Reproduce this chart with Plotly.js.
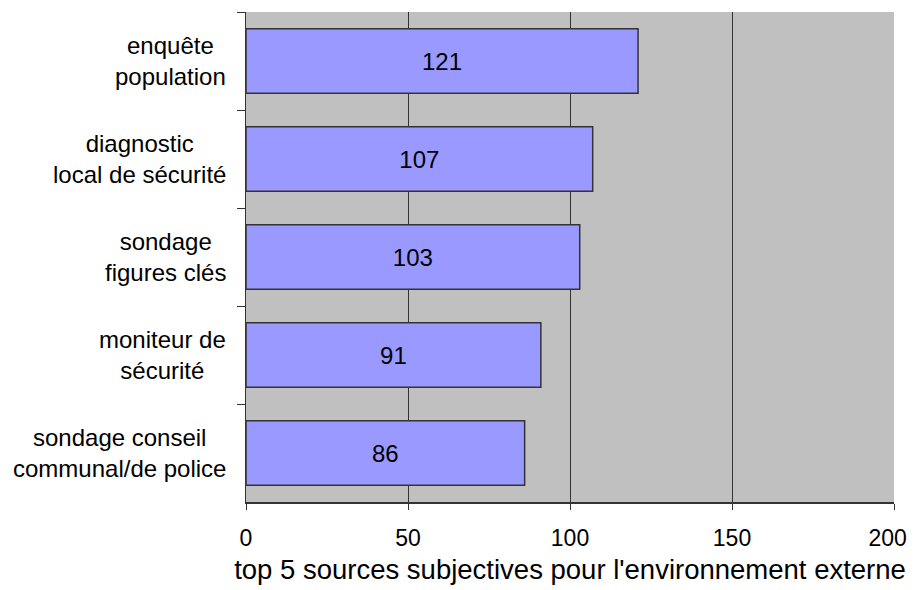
<!DOCTYPE html>
<html>
<head>
<meta charset="utf-8">
<script src="https://cdn.plot.ly/plotly-3.0.1.min.js"></script>
<style>html,body{margin:0;padding:0;background:#fff;}#chart{width:922px;height:590px;}</style>
</head>
<body>
<div id="chart"></div>
<script>
const categories = [
  "enquête<br>population",
  "diagnostic<br>local de sécurité",
  "sondage<br>figures clés",
  "moniteur de<br>sécurité",
  "sondage conseil<br>communal/de police"
];
const values = [121, 107, 103, 91, 86];
const xTicks = [0, 50, 100, 150, 200];
const xTitle = "top 5 sources subjectives pour l'environnement externe";

const font = "Liberation Sans, Arial, sans-serif";

const labelAnnotations = categories.map(c => ({
  xref: "paper", yref: "y",
  x: 0, y: c,
  xanchor: "right", yanchor: "middle",
  xshift: -18,
  align: "center",
  text: c,
  showarrow: false,
  font: {family: font, size: 24, color: "#000"}
}));

// last tick label is pulled slightly inward (as in the reference)
const tickText = xTicks.map((v, i) => i === xTicks.length - 1 ? String(v) + "\u00a0\u00a0" : String(v));

Plotly.newPlot("chart", [{
  type: "bar",
  orientation: "h",
  y: categories,
  x: values,
  text: values.map(String),
  textposition: "inside",
  insidetextanchor: "middle",
  textangle: 0,
  textfont: {family: font, size: 24, color: "#000"},
  constraintext: "none",
  marker: {color: "#9999FF", line: {color: "#333333", width: 1.5}},
  hoverinfo: "none"
}], {
  width: 922, height: 590,
  margin: {l: 246, r: 28, t: 12, b: 88, pad: 0},
  paper_bgcolor: "#ffffff",
  plot_bgcolor: "#C0C0C0",
  bargap: 0.34,
  showlegend: false,
  font: {family: font, color: "#000"},
  annotations: labelAnnotations,
  xaxis: {
    range: [0, 200],
    tickvals: xTicks,
    ticktext: tickText,
    tickfont: {size: 23},
    ticklabelstandoff: 9,
    showgrid: true, gridcolor: "#333333", gridwidth: 1,
    zeroline: false,
    showline: true, linecolor: "#333333", linewidth: 1.5,
    ticks: "outside", ticklen: 6, tickcolor: "#333333",
    title: {text: xTitle, font: {size: 27.5}, standoff: 9}
  },
  yaxis: {
    type: "category",
    autorange: "reversed",
    showticklabels: false,
    showgrid: false,
    zeroline: false,
    showline: true, linecolor: "#333333", linewidth: 1.5,
    ticks: "outside", ticklen: 8, tickcolor: "#333333",
    tickson: "boundaries"
  }
}, {staticPlot: true});
</script>
</body>
</html>
